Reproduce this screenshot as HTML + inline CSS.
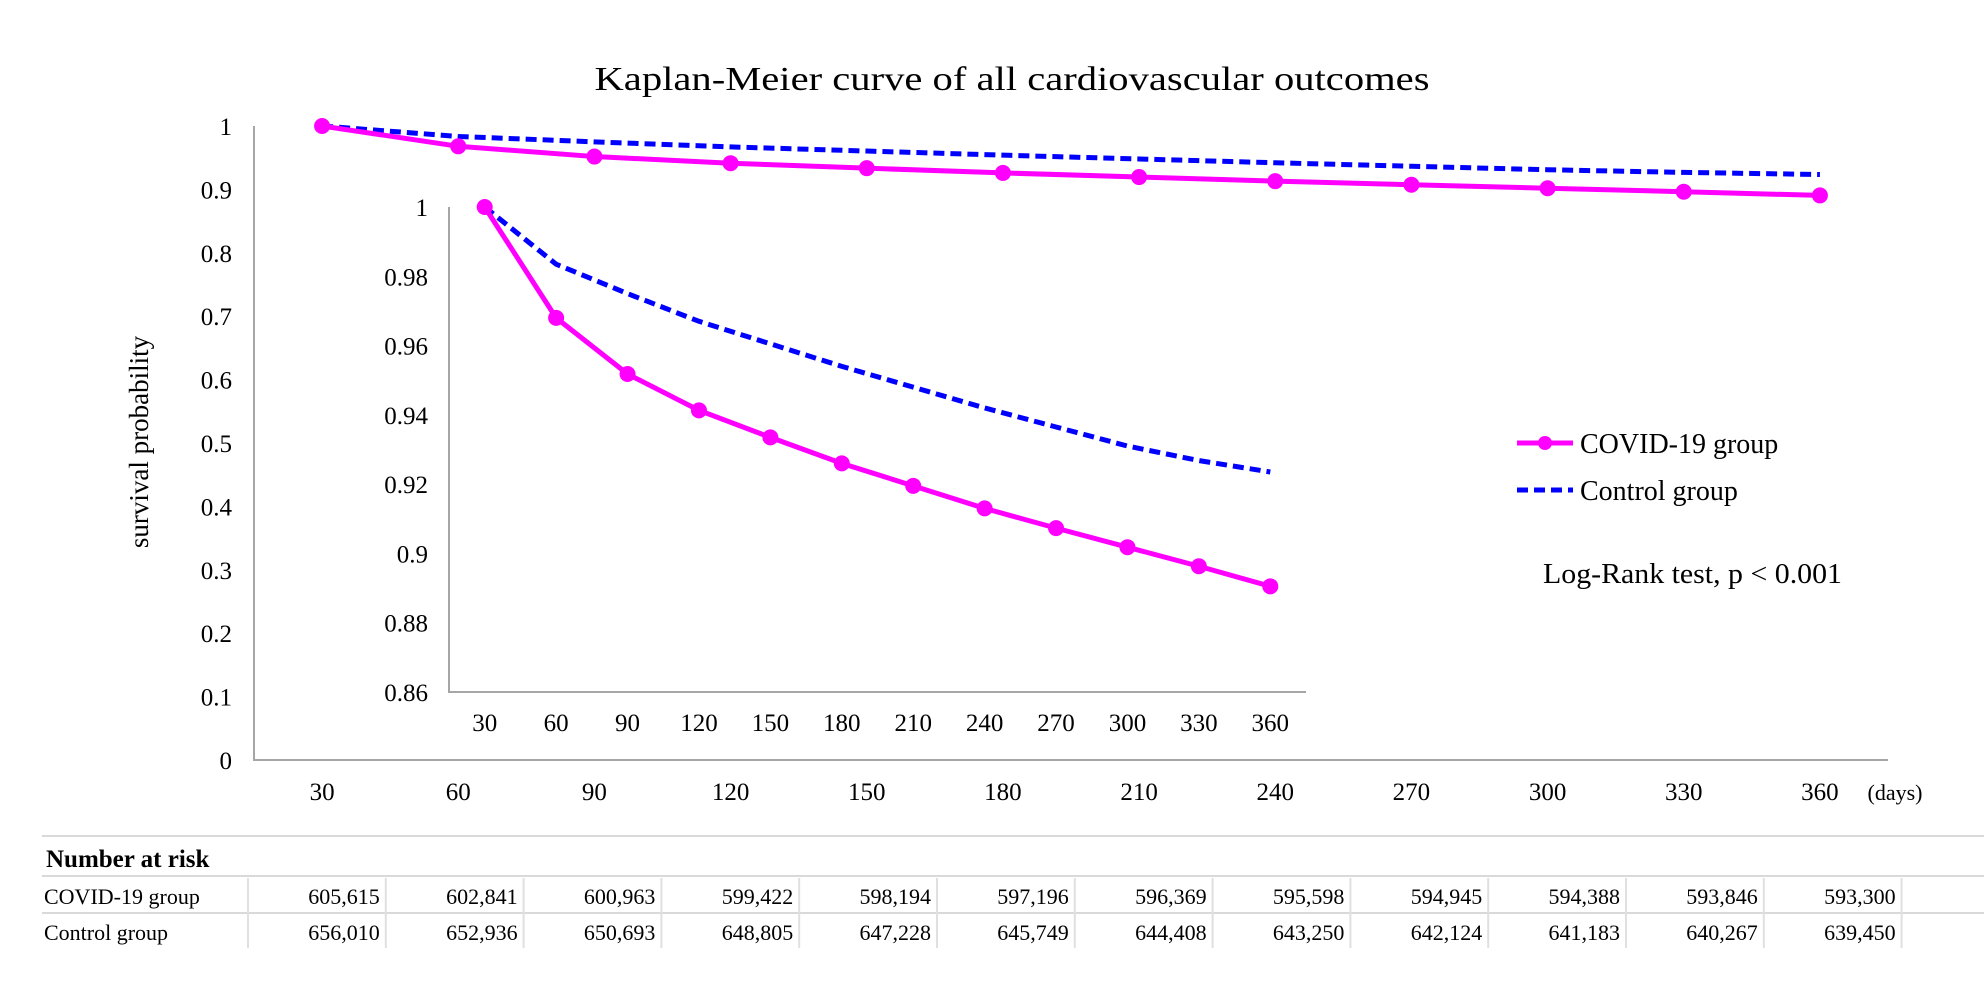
<!DOCTYPE html>
<html><head><meta charset="utf-8"><style>
html,body{margin:0;padding:0;background:#fff;}
svg{display:block;font-family:"Liberation Serif",serif;}
</style></head><body>
<svg id="chart" width="1984" height="984" viewBox="0 0 1984 984">
<text x="1012" y="90" font-size="34" text-anchor="middle" textLength="835" lengthAdjust="spacingAndGlyphs">Kaplan-Meier curve of all cardiovascular outcomes</text>
<text transform="translate(148,442) rotate(-90)" font-size="27" text-anchor="middle">survival probability</text>
<g id="main"></g>
<g id="inset"></g>
<g>
 <g>
  <line x1="1517" y1="443" x2="1573" y2="443" stroke="#ff00ff" stroke-width="5"/>
  <circle cx="1545" cy="443" r="7" fill="#ff00ff"/>
  <text x="1580" y="453" font-size="28">COVID-19 group</text>
 </g>
 <g>
  <line x1="1517" y1="490" x2="1573" y2="490" stroke="#0000ff" stroke-width="5" stroke-dasharray="11,6"/>
  <text x="1580" y="500" font-size="28">Control group</text>
 </g>
</g>
<text x="1543" y="583" font-size="28" textLength="299" lengthAdjust="spacingAndGlyphs">Log-Rank test, p &lt; 0.001</text>
<g id="table"></g>
</svg>
<script>
const days = [30,60,90,120,150,180,210,240,270,300,330,360];
const covid = [1, 0.968, 0.9518, 0.9413, 0.9335, 0.926, 0.9195, 0.913, 0.9073, 0.9018, 0.8963, 0.8905];
const control = [1, 0.9835, 0.975, 0.967, 0.9605, 0.954, 0.948, 0.942, 0.9365, 0.931, 0.9268, 0.9235];
const mainTicks = [0,0.1,0.2,0.3,0.4,0.5,0.6,0.7,0.8,0.9,1];
const mainTickLabels = ["0","0.1","0.2","0.3","0.4","0.5","0.6","0.7","0.8","0.9","1"];
const insetTicks = [0.86,0.88,0.9,0.92,0.94,0.96,0.98,1];
const insetTickLabels = ["0.86","0.88","0.9","0.92","0.94","0.96","0.98","1"];
const riskCovid = ["605,615","602,841","600,963","599,422","598,194","597,196","596,369","595,598","594,945","594,388","593,846","593,300"];
const riskControl = ["656,010","652,936","650,693","648,805","647,228","645,749","644,408","643,250","642,124","641,183","640,267","639,450"];

const NS="http://www.w3.org/2000/svg";
function mk(parent,tag,attrs,text){const e=document.createElementNS(NS,tag);for(const k in attrs)e.setAttribute(k,attrs[k]);if(text!==undefined)e.textContent=text;parent.appendChild(e);return e;}

function drawPlot(g,cfg,prefix){
  const n=days.length, bw=(cfg.x1-cfg.x0)/n;
  const X=i=>cfg.x0+bw*(i+0.5);
  const Y=v=>cfg.yb-(v-cfg.vmin)/(cfg.vmax-cfg.vmin)*(cfg.yb-cfg.yt);
  const ax=mk(g,'path',{d:`M${cfg.x0},${cfg.yt} V${cfg.yb} H${cfg.x1}`,fill:'none',stroke:'#a6a6a6','stroke-width':2});
  
  
  cfg.ticks.forEach((t,i)=>{
    const e=mk(g,'text',{x:cfg.lx,y:Y(t)+9,'font-size':cfg.fs,'text-anchor':'end'},cfg.tickLabels[i]);
    
    
  });
  days.forEach((d,i)=>{
    const e=mk(g,'text',{x:X(i),y:cfg.xly,'font-size':cfg.fs,'text-anchor':'middle'},String(d));
    
    
  });
  const cl=mk(g,'polyline',{points:control.map((v,i)=>X(i)+','+Y(v)).join(' '),fill:'none',stroke:'#0000ff','stroke-width':5,'stroke-dasharray':'11,6'});
  
  
  const cv=mk(g,'polyline',{points:covid.map((v,i)=>X(i)+','+Y(v)).join(' '),fill:'none',stroke:'#ff00ff','stroke-width':5});
  
  
  covid.forEach((v,i)=>{
    const c=mk(g,'circle',{cx:X(i),cy:Y(v),r:8,fill:'#ff00ff'});
    
    
  });
}
drawPlot(document.getElementById('main'),{x0:254,x1:1888,yt:126,yb:760,vmin:0,vmax:1,ticks:mainTicks,tickLabels:mainTickLabels,lx:232,xly:800,fs:25},'main');
drawPlot(document.getElementById('inset'),{x0:449,x1:1306,yt:207,yb:692,vmin:0.86,vmax:1,ticks:insetTicks,tickLabels:insetTickLabels,lx:428,xly:731,fs:25},'inset');
const dl=mk(document.getElementById('main'),'text',{x:1895,y:800,'font-size':22,'text-anchor':'middle'},'(days)');



const tg=document.getElementById('table');
[836,876,913].forEach(y=>{mk(tg,'line',{x1:42,y1:y,x2:1984,y2:y,stroke:'#d9d9d9','stroke-width':2});});
for(let k=0;k<=12;k++){const x=248+k*137.8;mk(tg,'line',{x1:x,y1:878,x2:x,y2:948,stroke:'#e0e0e0','stroke-width':2});}
const hdr=mk(tg,'text',{x:46,y:867,'font-size':25,'font-weight':'bold'},'Number at risk');


[["COVID-19 group",riskCovid,904],["Control group",riskControl,940]].forEach(([lab,arr,y])=>{
  const l=mk(tg,'text',{x:44,y:y,'font-size':22},lab);
  
  
  arr.forEach((v,k)=>{
    const t=mk(tg,'text',{x:248+(k+1)*137.8-6,y:y,'font-size':22,'text-anchor':'end'},v);
    
    
  });
});
</script>
</body></html>
